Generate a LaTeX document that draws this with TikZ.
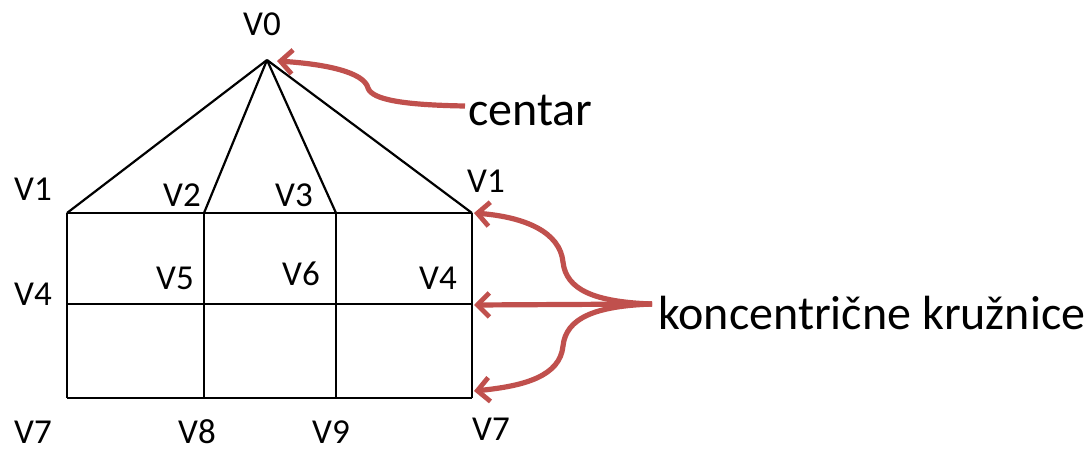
\documentclass[tikz,border=0pt]{standalone}
\usepackage{fontspec}
\setmainfont{Carlito}
\usetikzlibrary{arrows.meta}
\definecolor{crvena}{RGB}{192,80,77}
\tikzset{
brid/.style={black,line width=1.1pt},
oznaka/.style={font=\fontsize{17.5}{20}\selectfont,inner sep=0pt},
tekst/.style={font=\fontsize{24}{28}\selectfont,inner sep=0pt},
strelica/.style={crvena,line width=2.6pt,-{Straight Barb[length=6pt,width=12pt,line width=2.4pt]}}
}
\begin{document}
\begin{tikzpicture}[x=0.5pt,y=-0.5pt]
\useasboundingbox (0,0) rectangle (1091,450);
% vrhovi
\coordinate (V0) at (267,60);
\coordinate (A1) at (67,213);
\coordinate (A2) at (204,213);
\coordinate (A3) at (336,213);
\coordinate (A4) at (472,213);
\coordinate (B1) at (67,304);
\coordinate (B4) at (472,304);
\coordinate (C1) at (67,398);
\coordinate (C2) at (204,398);
\coordinate (C3) at (336,398);
\coordinate (C4) at (472,398);

\foreach \v in {A1,A2,A3,A4}{
\draw[brid] (V0)--(\v);
}
\draw[brid] (A1)--(A4);
\draw[brid] (B1)--(B4);
\draw[brid] (C1)--(C4);
\draw[brid] (A1)--(C1);
\draw[brid] (A2)--(C2);
\draw[brid] (A3)--(C3);
\draw[brid] (A4)--(C4);

% oznake
\node[oznaka] (l0) at (262,24) {V0};
\node[oznaka] (l1) at (33,189) {V1};
\node[oznaka] (l2) at (182,195) {V2};
\node[oznaka] (l3) at (294,195) {V3};
\node[oznaka] (l1d) at (486,181) {V1};
\node[oznaka] (l4) at (33,294) {V4};
\node[oznaka] (l5) at (175,278) {V5};
\node[oznaka] (l6) at (301,274) {V6};
\node[oznaka] (l4d) at (438,278) {V4};
\node[oznaka] (l7) at (33,432) {V7};
\node[oznaka] (l8) at (197,432) {V8};
\node[oznaka] (l9) at (331,432) {V9};
\node[oznaka] (l7d) at (491,429) {V7};

\node[tekst,anchor=west] (centar) at (468,110) {centar};
\node[tekst,anchor=west] (kruz) at (658,313) {koncentrične kružnice};

% strelice
\coordinate (ck) at (465,106);
\coordinate (kk) at (652,304);
\draw[strelica] (ck) .. controls (405,105) and (372,100) .. (368,88)
  .. controls (364,72) and (325,64) .. (277,61);
\draw[strelica] (kk) .. controls (595,302) and (566,290) .. (563,262)
  .. controls (560,232) and (525,217) .. (474,213);
\draw[strelica] (kk) -- (474,305);
\draw[strelica] (kk) .. controls (595,306) and (566,318) .. (563,346)
  .. controls (560,376) and (525,386) .. (474,391);
\end{tikzpicture}
\end{document}
